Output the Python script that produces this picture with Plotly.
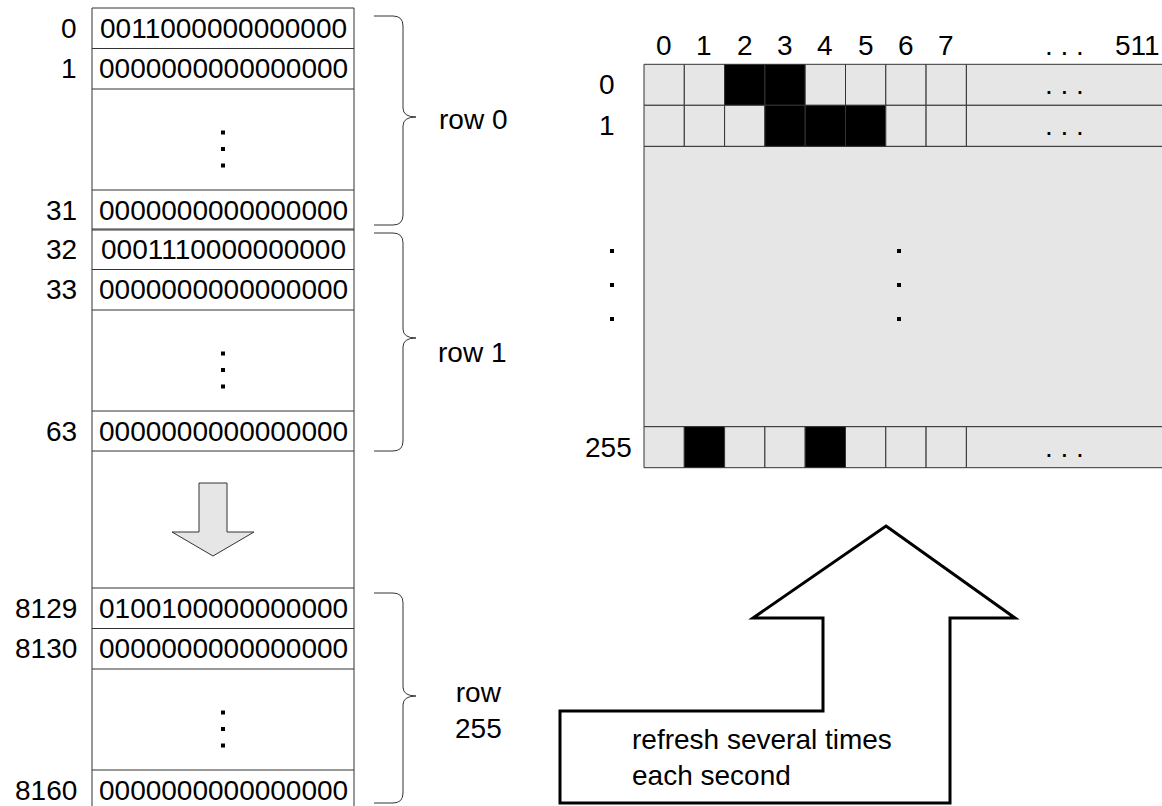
import plotly.graph_objects as go

# ---------------- data ----------------
ADDRESSES = ["0", "1", "31", "32", "33", "63", "8129", "8130", "8160"]
WORDS = ["0011000000000000", "0000000000000000", "0000000000000000",
         "0001110000000000", "0000000000000000", "0000000000000000",
         "0100100000000000", "0000000000000000", "0000000000000000"]
BLOCK_LABELS = ["row 0", "row 1", "row<br>255"]
SCREEN_ROWS = ["0", "1", "255"]
SCREEN_COLS = ["0", "1", "2", "3", "4", "5", "6", "7"]
MORE_COLS = ". . ."
LAST_COL = "511"
REFRESH_TEXT = "refresh several times<br>each second"

# pixel pattern of the screen rows comes from the first word of each block
PIXELS = [[int(c) for c in WORDS[3 * b][:len(SCREEN_COLS)]] for b in range(3)]

# ---------------- layout geometry (pixels) ----------------
W, H = 1162, 806
FONT = dict(family="Liberation Sans, Arial, sans-serif", size=28, color="black")
GRAY = "#e6e6e6"
LINE = "#333333"

COL_X0, COL_X1 = 92, 354
BLOCK_TOPS = [8, 229, 588]
SLOT_EDGES = [0, 40.5, 81, 182, 222]      # box0, box1, dots, box_last
BOX_SLOTS = [(0, 1), (1, 2), (3, 4)]
BRACES = [(16, 225, 117), (233, 451, 338), (593, 803, 696)]
BRACE_X = (374, 403, 416)
BLOCK_LABEL_POS = [(437, 119, "left"), (436, 352, "left"), (478, 710, "center")]

GX0, CW, RH = 644, 40.3, 41
GRID_RIGHT = 1175
ROW_TOPS = [64.3, 105.3, 426.7]
ROW_LABEL_X = [617, 617, 634]
HEADER_Y = 45
MORE_X, LAST_X = 1064, 1137

shapes = []
annotations = []


def add_text(x, y, text, xanchor="center", yanchor="middle", align="center"):
    annotations.append(dict(x=x, y=y, xref="x", yref="y", text=text,
                            showarrow=False, font=FONT, xanchor=xanchor,
                            yanchor=yanchor, align=align))


def add_line(x0, y0, x1, y1, color=LINE, width=1):
    shapes.append(dict(type="line", x0=x0, y0=y0, x1=x1, y1=y1, xref="x", yref="y",
                       line=dict(color=color, width=width), layer="below"))


def add_rect(x0, y0, x1, y1, fill, color=LINE, width=1):
    shapes.append(dict(type="rect", x0=x0, y0=y0, x1=x1, y1=y1, xref="x", yref="y",
                       fillcolor=fill, line=dict(color=color, width=width), layer="below"))


# ---------------- left memory column ----------------
add_line(COL_X0, BLOCK_TOPS[0], COL_X0, H + 5)
add_line(COL_X1, BLOCK_TOPS[0], COL_X1, H + 5)
dot_x, dot_y = [], []
for b, top in enumerate(BLOCK_TOPS):
    for e in SLOT_EDGES:
        add_line(COL_X0, top + e, COL_X1, top + e)
    for k, (s0, s1) in enumerate(BOX_SLOTS):
        idx = 3 * b + k
        yc = top + (SLOT_EDGES[s0] + SLOT_EDGES[s1]) / 2
        add_text(79, yc, ADDRESSES[idx], xanchor="right")
        add_text((COL_X0 + COL_X1) / 2, yc, WORDS[idx])
    for off in (43.5, 60, 76.5):
        dot_x.append((COL_X0 + COL_X1) / 2)
        dot_y.append(top + SLOT_EDGES[2] + off)
    # brace
    y0, y1, ym = BRACES[b]
    xa, xv, xt = BRACE_X
    path = (f"M {xa},{y0} L {xv-10},{y0} Q {xv},{y0} {xv},{y0+10} "
            f"L {xv},{ym-9} Q {xv},{ym} {xt},{ym} Q {xv},{ym} {xv},{ym+9} "
            f"L {xv},{y1-10} Q {xv},{y1} {xv-10},{y1} L {xa},{y1}")
    shapes.append(dict(type="path", path=path, xref="x", yref="y",
                       line=dict(color=LINE, width=1), layer="below"))
    lx, ly, la = BLOCK_LABEL_POS[b]
    add_text(lx, ly, BLOCK_LABELS[b], xanchor=la, align=la)

# down arrow between blocks
shapes.append(dict(type="path", xref="x", yref="y", layer="below",
                   path="M 199,483 L 227,483 L 227,532 L 254,532 L 213,556 L 172,532 L 199,532 Z",
                   fillcolor=GRAY, line=dict(color=LINE, width=1)))

# ---------------- screen grid ----------------
n = len(SCREEN_COLS)
grid_x_end = GX0 + n * CW
add_rect(GX0, ROW_TOPS[1] + RH, GRID_RIGHT, ROW_TOPS[2], GRAY)
for r, top in enumerate(ROW_TOPS):
    for c in range(n):
        add_rect(GX0 + c * CW, top, GX0 + (c + 1) * CW, top + RH,
                 "black" if PIXELS[r][c] else GRAY)
    add_rect(grid_x_end, top, GRID_RIGHT, top + RH, GRAY)
    add_text(MORE_X, top + RH / 2, MORE_COLS)
    add_text(ROW_LABEL_X[r], top + RH / 2, SCREEN_ROWS[r], xanchor="right")
for c, lab in enumerate(SCREEN_COLS):
    add_text(GX0 + (c + 0.5) * CW, HEADER_Y, lab)
add_text(MORE_X, HEADER_Y, MORE_COLS)
add_text(LAST_X, HEADER_Y, LAST_COL)
for x in (612, 899):
    for y in (251, 285, 319):
        dot_x.append(x)
        dot_y.append(y)

# ---------------- refresh arrow ----------------
shapes.append(dict(type="path", xref="x", yref="y", layer="below",
                   path=("M 886,526 L 1015,618 L 950,618 L 950,803 L 560,803 "
                         "L 560,711 L 823,711 L 823,618 L 753,618 Z"),
                   fillcolor="white", line=dict(color="black", width=3)))
add_text(630, 757, REFRESH_TEXT, xanchor="left", align="left")

fig = go.Figure()
fig.add_trace(go.Scatter(x=dot_x, y=dot_y, mode="markers", hoverinfo="skip",
                         marker=dict(symbol="square", size=4, color="black",
                                     line=dict(width=0))))
fig.update_layout(
    width=W, height=H, autosize=False,
    margin=dict(l=0, r=0, t=0, b=0, pad=0),
    paper_bgcolor="white", plot_bgcolor="white",
    showlegend=False,
    xaxis=dict(range=[0, W], visible=False, fixedrange=True),
    yaxis=dict(range=[H, 0], visible=False, fixedrange=True),
    shapes=shapes, annotations=annotations,
)
fig.write_html("out.html", config={"displayModeBar": False, "staticPlot": True},
               post_script="document.body.style.margin='0';document.body.style.overflow='hidden';")
